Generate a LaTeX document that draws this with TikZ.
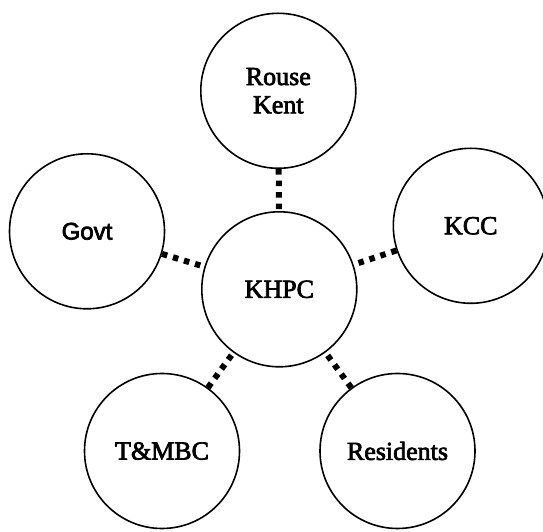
\documentclass[tikz,border=0pt]{standalone}
\usepackage{fontspec}
\setmainfont{Liberation Serif}
\newfontfamily\sansbox{Liberation Sans}
\newcommand\heavytext[1]{\special{pdf:literal direct 2 Tr 0.7 w}#1\special{pdf:literal direct 0 Tr}}
\begin{document}
\begin{tikzpicture}[x=1pt,y=1pt,
  party/.style={draw, circle, line width=1.6pt, minimum size=155pt, inner sep=0pt,
    align=center, font=\fontsize{26}{28.3}\selectfont},
  link/.style={line width=6pt, dash pattern=on 5.5pt off 6pt, line cap=butt}]
\useasboundingbox (0,0) rectangle (543,532);
\node[party] (rk) at (278.3,441.2) {\heavytext{Rouse}\\\heavytext{Kent}};
\node[party] (khpc) at (279.3,242.7) {\heavytext{KHPC}};
\node[party, font=\sansbox\fontsize{24}{28}\selectfont] (govt) at (87,300.7) {\heavytext{Govt}};
\node[party] (kcc) at (470.8,306.2) {\heavytext{KCC}};
\node[party] (tmbc) at (162,81) {\heavytext{T\&MBC}};
\node[party] (res) at (397.5,81) {\heavytext{Residents}};
\draw[link] (rk) -- (khpc);
\draw[link] (govt) -- (khpc);
\draw[link] (kcc) -- (khpc);
\draw[link] (tmbc) -- (khpc);
\draw[link] (res) -- (khpc);
\end{tikzpicture}
\end{document}
